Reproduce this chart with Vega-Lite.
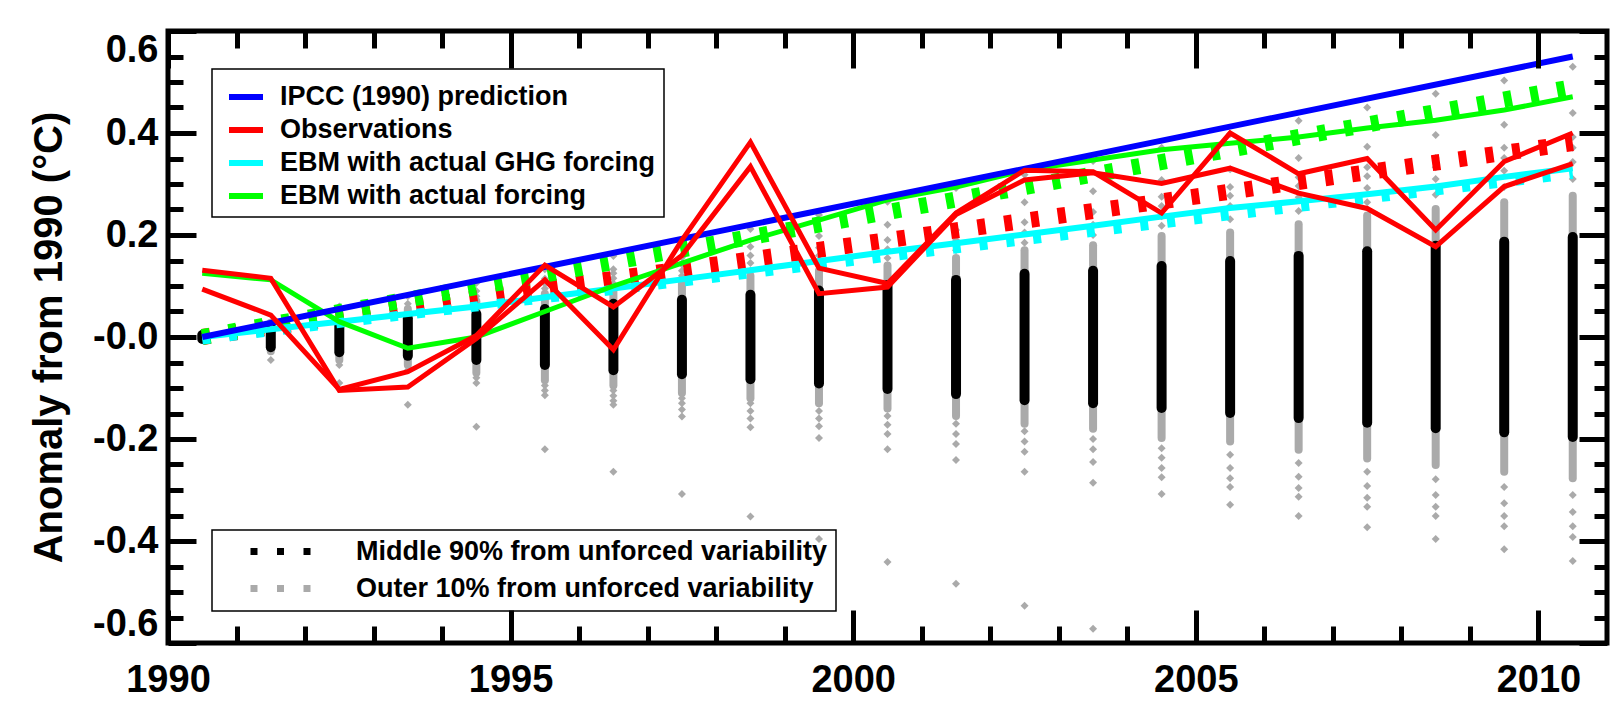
{
  "$schema": "https://vega.github.io/schema/vega-lite/v6.json",
  "width": 1439,
  "height": 612,
  "autosize": {"type": "none"},
  "padding": {"left": 168, "top": 31, "right": 3, "bottom": 66},
  "background": "white",
  "config": {
    "font": "Liberation Sans",
    "view": {"stroke": "black", "strokeWidth": 5},
    "axis": {"domain": false, "grid": false, "tickColor": "black", "tickWidth": 5, "labelColor": "black", "titleColor": "black", "labelFont": "Liberation Sans", "titleFont": "Liberation Sans"},
    "legend": {"strokeWidth": 1.5, "labelFont": "Liberation Sans"}
  },
  "resolve": {"scale": {"x": "shared", "y": "shared"}, "axis": {"x": "independent", "y": "independent"}},
  "datasets": {
    "outer": [
      {"year": 1991.5, "lo": -0.028, "hi": 0.028, "kind": "Outer 10% from unforced variability"},
      {"year": 1992.5, "lo": -0.045, "hi": 0.045, "kind": "Outer 10% from unforced variability"},
      {"year": 1993.5, "lo": -0.055, "hi": 0.055, "kind": "Outer 10% from unforced variability"},
      {"year": 1994.5, "lo": -0.07, "hi": 0.07, "kind": "Outer 10% from unforced variability"},
      {"year": 1995.5, "lo": -0.085, "hi": 0.085, "kind": "Outer 10% from unforced variability"},
      {"year": 1996.5, "lo": -0.095, "hi": 0.095, "kind": "Outer 10% from unforced variability"},
      {"year": 1997.5, "lo": -0.11, "hi": 0.11, "kind": "Outer 10% from unforced variability"},
      {"year": 1998.5, "lo": -0.12, "hi": 0.12, "kind": "Outer 10% from unforced variability"},
      {"year": 1999.5, "lo": -0.13, "hi": 0.13, "kind": "Outer 10% from unforced variability"},
      {"year": 2000.5, "lo": -0.14, "hi": 0.14, "kind": "Outer 10% from unforced variability"},
      {"year": 2001.5, "lo": -0.155, "hi": 0.155, "kind": "Outer 10% from unforced variability"},
      {"year": 2002.5, "lo": -0.17, "hi": 0.17, "kind": "Outer 10% from unforced variability"},
      {"year": 2003.5, "lo": -0.18, "hi": 0.18, "kind": "Outer 10% from unforced variability"},
      {"year": 2004.5, "lo": -0.198, "hi": 0.198, "kind": "Outer 10% from unforced variability"},
      {"year": 2005.5, "lo": -0.205, "hi": 0.205, "kind": "Outer 10% from unforced variability"},
      {"year": 2006.5, "lo": -0.221, "hi": 0.221, "kind": "Outer 10% from unforced variability"},
      {"year": 2007.5, "lo": -0.238, "hi": 0.238, "kind": "Outer 10% from unforced variability"},
      {"year": 2008.5, "lo": -0.251, "hi": 0.251, "kind": "Outer 10% from unforced variability"},
      {"year": 2009.5, "lo": -0.264, "hi": 0.264, "kind": "Outer 10% from unforced variability"},
      {"year": 2010.5, "lo": -0.277, "hi": 0.277, "kind": "Outer 10% from unforced variability"}
    ],
    "middle": [
      {"year": 1990.5, "lo": -0.004, "hi": 0.004, "kind": "Middle 90% from unforced variability"},
      {"year": 1991.5, "lo": -0.02, "hi": 0.02, "kind": "Middle 90% from unforced variability"},
      {"year": 1992.5, "lo": -0.03, "hi": 0.03, "kind": "Middle 90% from unforced variability"},
      {"year": 1993.5, "lo": -0.037, "hi": 0.037, "kind": "Middle 90% from unforced variability"},
      {"year": 1994.5, "lo": -0.045, "hi": 0.045, "kind": "Middle 90% from unforced variability"},
      {"year": 1995.5, "lo": -0.055, "hi": 0.055, "kind": "Middle 90% from unforced variability"},
      {"year": 1996.5, "lo": -0.065, "hi": 0.065, "kind": "Middle 90% from unforced variability"},
      {"year": 1997.5, "lo": -0.073, "hi": 0.073, "kind": "Middle 90% from unforced variability"},
      {"year": 1998.5, "lo": -0.083, "hi": 0.083, "kind": "Middle 90% from unforced variability"},
      {"year": 1999.5, "lo": -0.091, "hi": 0.091, "kind": "Middle 90% from unforced variability"},
      {"year": 2000.5, "lo": -0.102, "hi": 0.102, "kind": "Middle 90% from unforced variability"},
      {"year": 2001.5, "lo": -0.112, "hi": 0.112, "kind": "Middle 90% from unforced variability"},
      {"year": 2002.5, "lo": -0.124, "hi": 0.124, "kind": "Middle 90% from unforced variability"},
      {"year": 2003.5, "lo": -0.13, "hi": 0.13, "kind": "Middle 90% from unforced variability"},
      {"year": 2004.5, "lo": -0.139, "hi": 0.139, "kind": "Middle 90% from unforced variability"},
      {"year": 2005.5, "lo": -0.149, "hi": 0.149, "kind": "Middle 90% from unforced variability"},
      {"year": 2006.5, "lo": -0.159, "hi": 0.159, "kind": "Middle 90% from unforced variability"},
      {"year": 2007.5, "lo": -0.168, "hi": 0.168, "kind": "Middle 90% from unforced variability"},
      {"year": 2008.5, "lo": -0.179, "hi": 0.179, "kind": "Middle 90% from unforced variability"},
      {"year": 2009.5, "lo": -0.187, "hi": 0.187, "kind": "Middle 90% from unforced variability"},
      {"year": 2010.5, "lo": -0.196, "hi": 0.196, "kind": "Middle 90% from unforced variability"}
    ],
    "diamonds": [
      {"year": 1991.5, "v": -0.045}, {"year": 1991.5, "v": 0.027},
      {"year": 1992.5, "v": -0.055}, {"year": 1992.5, "v": 0.055}, {"year": 1992.5, "v": -0.09}, {"year": 1992.5, "v": 0.06},
      {"year": 1993.5, "v": -0.065}, {"year": 1993.5, "v": 0.065}, {"year": 1993.5, "v": -0.133}, {"year": 1993.5, "v": 0.08},
      {"year": 1994.5, "v": -0.08}, {"year": 1994.5, "v": -0.09}, {"year": 1994.5, "v": 0.08}, {"year": 1994.5, "v": 0.09}, {"year": 1994.5, "v": -0.176}, {"year": 1994.5, "v": 0.106},
      {"year": 1995.5, "v": -0.095}, {"year": 1995.5, "v": -0.105}, {"year": 1995.5, "v": -0.114}, {"year": 1995.5, "v": 0.095}, {"year": 1995.5, "v": 0.105}, {"year": 1995.5, "v": 0.114}, {"year": 1995.5, "v": -0.22}, {"year": 1995.5, "v": 0.133},
      {"year": 1996.5, "v": -0.105}, {"year": 1996.5, "v": -0.115}, {"year": 1996.5, "v": -0.125}, {"year": 1996.5, "v": -0.133}, {"year": 1996.5, "v": 0.105}, {"year": 1996.5, "v": 0.115}, {"year": 1996.5, "v": 0.125}, {"year": 1996.5, "v": 0.133}, {"year": 1996.5, "v": -0.264}, {"year": 1996.5, "v": 0.159},
      {"year": 1997.5, "v": -0.12}, {"year": 1997.5, "v": -0.13}, {"year": 1997.5, "v": -0.142}, {"year": 1997.5, "v": -0.156}, {"year": 1997.5, "v": 0.12}, {"year": 1997.5, "v": 0.13}, {"year": 1997.5, "v": 0.142}, {"year": 1997.5, "v": 0.156}, {"year": 1997.5, "v": -0.308}, {"year": 1997.5, "v": 0.186},
      {"year": 1998.5, "v": -0.13}, {"year": 1998.5, "v": -0.145}, {"year": 1998.5, "v": -0.16}, {"year": 1998.5, "v": -0.177}, {"year": 1998.5, "v": 0.13}, {"year": 1998.5, "v": 0.145}, {"year": 1998.5, "v": 0.16}, {"year": 1998.5, "v": 0.177}, {"year": 1998.5, "v": -0.352}, {"year": 1998.5, "v": 0.212},
      {"year": 1999.5, "v": -0.145}, {"year": 1999.5, "v": -0.16}, {"year": 1999.5, "v": -0.175}, {"year": 1999.5, "v": -0.198}, {"year": 1999.5, "v": 0.145}, {"year": 1999.5, "v": 0.16}, {"year": 1999.5, "v": 0.175}, {"year": 1999.5, "v": 0.198}, {"year": 1999.5, "v": -0.396}, {"year": 1999.5, "v": 0.239},
      {"year": 2000.5, "v": -0.155}, {"year": 2000.5, "v": -0.172}, {"year": 2000.5, "v": -0.19}, {"year": 2000.5, "v": -0.22}, {"year": 2000.5, "v": 0.155}, {"year": 2000.5, "v": 0.172}, {"year": 2000.5, "v": 0.19}, {"year": 2000.5, "v": 0.22}, {"year": 2000.5, "v": -0.441}, {"year": 2000.5, "v": 0.265},
      {"year": 2001.5, "v": -0.17}, {"year": 2001.5, "v": -0.19}, {"year": 2001.5, "v": -0.21}, {"year": 2001.5, "v": -0.241}, {"year": 2001.5, "v": 0.17}, {"year": 2001.5, "v": 0.19}, {"year": 2001.5, "v": 0.21}, {"year": 2001.5, "v": 0.241}, {"year": 2001.5, "v": -0.484}, {"year": 2001.5, "v": 0.292},
      {"year": 2002.5, "v": -0.185}, {"year": 2002.5, "v": -0.205}, {"year": 2002.5, "v": -0.225}, {"year": 2002.5, "v": -0.264}, {"year": 2002.5, "v": 0.185}, {"year": 2002.5, "v": 0.205}, {"year": 2002.5, "v": 0.225}, {"year": 2002.5, "v": 0.264}, {"year": 2002.5, "v": -0.527}, {"year": 2002.5, "v": 0.318},
      {"year": 2003.5, "v": -0.2}, {"year": 2003.5, "v": -0.22}, {"year": 2003.5, "v": -0.245}, {"year": 2003.5, "v": -0.286}, {"year": 2003.5, "v": 0.2}, {"year": 2003.5, "v": 0.22}, {"year": 2003.5, "v": 0.245}, {"year": 2003.5, "v": 0.286}, {"year": 2003.5, "v": -0.572}, {"year": 2003.5, "v": 0.345},
      {"year": 2004.5, "v": -0.218}, {"year": 2004.5, "v": -0.237}, {"year": 2004.5, "v": -0.257}, {"year": 2004.5, "v": -0.275}, {"year": 2004.5, "v": -0.308}, {"year": 2004.5, "v": 0.218}, {"year": 2004.5, "v": 0.237}, {"year": 2004.5, "v": 0.257}, {"year": 2004.5, "v": 0.275}, {"year": 2004.5, "v": 0.308}, {"year": 2004.5, "v": 0.371},
      {"year": 2005.5, "v": -0.231}, {"year": 2005.5, "v": -0.257}, {"year": 2005.5, "v": -0.277}, {"year": 2005.5, "v": -0.294}, {"year": 2005.5, "v": -0.329}, {"year": 2005.5, "v": 0.231}, {"year": 2005.5, "v": 0.257}, {"year": 2005.5, "v": 0.277}, {"year": 2005.5, "v": 0.294}, {"year": 2005.5, "v": 0.329}, {"year": 2005.5, "v": 0.398},
      {"year": 2006.5, "v": -0.247}, {"year": 2006.5, "v": -0.274}, {"year": 2006.5, "v": -0.296}, {"year": 2006.5, "v": -0.313}, {"year": 2006.5, "v": -0.351}, {"year": 2006.5, "v": 0.247}, {"year": 2006.5, "v": 0.274}, {"year": 2006.5, "v": 0.296}, {"year": 2006.5, "v": 0.313}, {"year": 2006.5, "v": 0.351}, {"year": 2006.5, "v": 0.424},
      {"year": 2007.5, "v": -0.264}, {"year": 2007.5, "v": -0.292}, {"year": 2007.5, "v": -0.315}, {"year": 2007.5, "v": -0.333}, {"year": 2007.5, "v": -0.373}, {"year": 2007.5, "v": 0.264}, {"year": 2007.5, "v": 0.292}, {"year": 2007.5, "v": 0.315}, {"year": 2007.5, "v": 0.333}, {"year": 2007.5, "v": 0.373}, {"year": 2007.5, "v": 0.45},
      {"year": 2008.5, "v": -0.279}, {"year": 2008.5, "v": -0.31}, {"year": 2008.5, "v": -0.333}, {"year": 2008.5, "v": -0.351}, {"year": 2008.5, "v": -0.396}, {"year": 2008.5, "v": 0.279}, {"year": 2008.5, "v": 0.31}, {"year": 2008.5, "v": 0.333}, {"year": 2008.5, "v": 0.351}, {"year": 2008.5, "v": 0.396}, {"year": 2008.5, "v": 0.477},
      {"year": 2009.5, "v": -0.294}, {"year": 2009.5, "v": -0.326}, {"year": 2009.5, "v": -0.351}, {"year": 2009.5, "v": -0.371}, {"year": 2009.5, "v": -0.416}, {"year": 2009.5, "v": 0.294}, {"year": 2009.5, "v": 0.326}, {"year": 2009.5, "v": 0.351}, {"year": 2009.5, "v": 0.371}, {"year": 2009.5, "v": 0.416}, {"year": 2009.5, "v": 0.503},
      {"year": 2010.5, "v": -0.31}, {"year": 2010.5, "v": -0.343}, {"year": 2010.5, "v": -0.371}, {"year": 2010.5, "v": -0.392}, {"year": 2010.5, "v": -0.439}, {"year": 2010.5, "v": 0.31}, {"year": 2010.5, "v": 0.343}, {"year": 2010.5, "v": 0.371}, {"year": 2010.5, "v": 0.392}, {"year": 2010.5, "v": 0.439}, {"year": 2010.5, "v": 0.53}
    ]
  },
  "layer": [
    {
      "data": {"name": "outer"},
      "mark": {"type": "rule", "strokeWidth": 8, "strokeCap": "round"},
      "encoding": {
        "x": {"field": "year", "type": "quantitative", "scale": {"domain": [1990, 2011], "nice": false, "zero": false},
          "axis": {"orient": "bottom", "values": [1990, 1995, 2000, 2005, 2010], "format": "d", "ticks": false, "labelFontSize": 38, "labelFontWeight": "bold", "labelPadding": 18, "labelFlush": false, "labelOverlap": false, "title": null}},
        "y": {"field": "lo", "type": "quantitative", "scale": {"domain": [-0.6, 0.6], "nice": false, "zero": false},
          "axis": {"orient": "left", "values": [-0.6, -0.4, -0.2, 0, 0.2, 0.4, 0.6], "labelExpr": "abs(datum.value) < 1e-9 ? '-0.0' : (datum.value < 0 ? '-' : '') + format(abs(datum.value), '.1f')", "ticks": false, "labelFontSize": 38, "labelFontWeight": "bold", "labelPadding": 10, "labelFlush": true, "labelOverlap": false, "title": "Anomaly from 1990 (°C)", "titleFontSize": 40, "titleFontWeight": "bold", "titlePadding": 23}},
        "y2": {"field": "hi"},
        "stroke": {"field": "kind", "type": "nominal",
          "scale": {"domain": ["Middle 90% from unforced variability", "Outer 10% from unforced variability"], "range": ["#000000", "#aaaaaa"]},
          "legend": {"orient": "none", "legendX": 44, "legendY": 499, "title": null, "direction": "vertical", "symbolType": "M-4.286,0H-3.286M-0.5,0H0.5M3.286,0H4.286", "symbolStrokeWidth": 7, "symbolSize": 196, "labelFontSize": 27, "labelFontWeight": "bold", "labelColor": "black", "labelLimit": 800, "labelOffset": 62, "strokeColor": "black", "padding": 8, "symbolOffset": 47, "rowPadding": 8}}
      }
    },
    {
      "data": {"name": "middle"},
      "mark": {"type": "rule", "strokeWidth": 10, "strokeCap": "round"},
      "encoding": {
        "x": {"field": "year", "type": "quantitative",
          "axis": {"orient": "bottom", "offset": -33, "values": [1990, 1995, 2000, 2005, 2010], "labels": false, "tickSize": 33, "zindex": 1, "title": null}},
        "y": {"field": "lo", "type": "quantitative",
          "axis": {"orient": "left", "offset": -28, "values": [-0.6, -0.4, -0.2, 0, 0.2, 0.4, 0.6], "labels": false, "tickSize": 28, "zindex": 1, "title": null}},
        "y2": {"field": "hi"},
        "stroke": {"field": "kind", "type": "nominal"}
      }
    },
    {
      "data": {"name": "diamonds"},
      "mark": {"type": "point", "shape": "diamond", "filled": true, "size": 64, "color": "#aaaaaa", "opacity": 1},
      "encoding": {
        "x": {"field": "year", "type": "quantitative",
          "axis": {"orient": "bottom", "offset": -17, "values": [1991, 1992, 1993, 1994, 1996, 1997, 1998, 1999, 2001, 2002, 2003, 2004, 2006, 2007, 2008, 2009], "labels": false, "tickSize": 17, "zindex": 1, "title": null}},
        "y": {"field": "v", "type": "quantitative",
          "axis": {"orient": "left", "offset": -15, "values": [-0.55, -0.5, -0.45, -0.35, -0.3, -0.25, -0.15, -0.1, -0.05, 0.05, 0.1, 0.15, 0.25, 0.3, 0.35, 0.45, 0.5, 0.55], "labels": false, "tickSize": 15, "zindex": 1, "title": null}}
      }
    },
    {
      "data": {"values": [{"year": 1990.5, "v": 0}, {"year": 2010.5, "v": 0.38}]},
      "mark": {"type": "line", "color": "#ff0000", "strokeWidth": 16, "strokeDash": [8, 19], "strokeCap": "butt"},
      "encoding": {
        "x": {"field": "year", "type": "quantitative",
          "axis": {"orient": "top", "offset": -37, "values": [1990, 1995, 2000, 2005, 2010], "labels": false, "tickSize": 37, "zindex": 1, "title": null}},
        "y": {"field": "v", "type": "quantitative",
          "axis": {"orient": "right", "offset": -28, "values": [-0.6, -0.4, -0.2, 0, 0.2, 0.4, 0.6], "labels": false, "tickSize": 28, "zindex": 1, "title": null}}
      }
    },
    {
      "data": {"values": [{"year": 1990.5, "v": 0}, {"year": 2010.5, "v": 0.49}]},
      "mark": {"type": "line", "color": "#00ff00", "strokeWidth": 16, "strokeDash": [8, 19], "strokeCap": "butt"},
      "encoding": {
        "x": {"field": "year", "type": "quantitative",
          "axis": {"orient": "top", "offset": -17, "values": [1991, 1992, 1993, 1994, 1996, 1997, 1998, 1999, 2001, 2002, 2003, 2004, 2006, 2007, 2008, 2009], "labels": false, "tickSize": 17, "zindex": 1, "title": null}},
        "y": {"field": "v", "type": "quantitative",
          "axis": {"orient": "right", "offset": -13, "values": [-0.55, -0.5, -0.45, -0.35, -0.3, -0.25, -0.15, -0.1, -0.05, 0.05, 0.1, 0.15, 0.25, 0.3, 0.35, 0.45, 0.5, 0.55], "labels": false, "tickSize": 13, "zindex": 1, "title": null}}
      }
    },
    {
      "data": {"values": [{"year": 1990.5, "v": -0.005}, {"year": 2010.5, "v": 0.32}]},
      "mark": {"type": "line", "color": "#00ffff", "strokeWidth": 10, "strokeDash": [8, 19], "strokeCap": "butt"},
      "encoding": {
        "x": {"field": "year", "type": "quantitative", "axis": null},
        "y": {"field": "v", "type": "quantitative", "axis": null}
      }
    },
    {
      "data": {"values": [
        {"year": 1990.5, "v": 0, "series": "EBM with actual GHG forcing"},
        {"year": 1991.5, "v": 0.015, "series": "EBM with actual GHG forcing"},
        {"year": 1992.5, "v": 0.03, "series": "EBM with actual GHG forcing"},
        {"year": 1993.5, "v": 0.045, "series": "EBM with actual GHG forcing"},
        {"year": 1994.5, "v": 0.06, "series": "EBM with actual GHG forcing"},
        {"year": 1995.5, "v": 0.078, "series": "EBM with actual GHG forcing"},
        {"year": 1996.5, "v": 0.095, "series": "EBM with actual GHG forcing"},
        {"year": 1997.5, "v": 0.113, "series": "EBM with actual GHG forcing"},
        {"year": 1998.5, "v": 0.131, "series": "EBM with actual GHG forcing"},
        {"year": 1999.5, "v": 0.149, "series": "EBM with actual GHG forcing"},
        {"year": 2000.5, "v": 0.167, "series": "EBM with actual GHG forcing"},
        {"year": 2001.5, "v": 0.184, "series": "EBM with actual GHG forcing"},
        {"year": 2002.5, "v": 0.201, "series": "EBM with actual GHG forcing"},
        {"year": 2003.5, "v": 0.218, "series": "EBM with actual GHG forcing"},
        {"year": 2004.5, "v": 0.236, "series": "EBM with actual GHG forcing"},
        {"year": 2005.5, "v": 0.253, "series": "EBM with actual GHG forcing"},
        {"year": 2006.5, "v": 0.266, "series": "EBM with actual GHG forcing"},
        {"year": 2007.5, "v": 0.28, "series": "EBM with actual GHG forcing"},
        {"year": 2008.5, "v": 0.295, "series": "EBM with actual GHG forcing"},
        {"year": 2009.5, "v": 0.314, "series": "EBM with actual GHG forcing"},
        {"year": 2010.5, "v": 0.331, "series": "EBM with actual GHG forcing"}
      ]},
      "mark": {"type": "line", "strokeWidth": 6},
      "encoding": {
        "x": {"field": "year", "type": "quantitative", "axis": null},
        "y": {"field": "v", "type": "quantitative", "axis": null},
        "color": {"field": "series", "type": "nominal",
          "scale": {"domain": ["IPCC (1990) prediction", "Observations", "EBM with actual GHG forcing", "EBM with actual forcing"], "range": ["#0000ff", "#ff0000", "#00ffff", "#00ff00"]},
          "legend": {"orient": "none", "legendX": 44, "legendY": 38, "title": null, "direction": "vertical", "symbolType": "stroke", "symbolStrokeWidth": 6, "symbolSize": 1156, "labelFontSize": 27, "labelFontWeight": "bold", "labelColor": "black", "labelLimit": 800, "labelOffset": 14, "strokeColor": "black", "padding": 8, "symbolOffset": 6, "rowPadding": 0}}
      }
    },
    {
      "data": {"values": [
        {"year": 1990.5, "v": 0.125, "series": "EBM with actual forcing"},
        {"year": 1991.5, "v": 0.112, "series": "EBM with actual forcing"},
        {"year": 1992.5, "v": 0.03, "series": "EBM with actual forcing"},
        {"year": 1993.5, "v": -0.022, "series": "EBM with actual forcing"},
        {"year": 1994.5, "v": 0.0, "series": "EBM with actual forcing"},
        {"year": 1995.5, "v": 0.05, "series": "EBM with actual forcing"},
        {"year": 1996.5, "v": 0.1, "series": "EBM with actual forcing"},
        {"year": 1997.5, "v": 0.145, "series": "EBM with actual forcing"},
        {"year": 1998.5, "v": 0.19, "series": "EBM with actual forcing"},
        {"year": 1999.5, "v": 0.229, "series": "EBM with actual forcing"},
        {"year": 2000.5, "v": 0.269, "series": "EBM with actual forcing"},
        {"year": 2001.5, "v": 0.294, "series": "EBM with actual forcing"},
        {"year": 2002.5, "v": 0.327, "series": "EBM with actual forcing"},
        {"year": 2003.5, "v": 0.347, "series": "EBM with actual forcing"},
        {"year": 2004.5, "v": 0.367, "series": "EBM with actual forcing"},
        {"year": 2005.5, "v": 0.38, "series": "EBM with actual forcing"},
        {"year": 2006.5, "v": 0.392, "series": "EBM with actual forcing"},
        {"year": 2007.5, "v": 0.41, "series": "EBM with actual forcing"},
        {"year": 2008.5, "v": 0.425, "series": "EBM with actual forcing"},
        {"year": 2009.5, "v": 0.445, "series": "EBM with actual forcing"},
        {"year": 2010.5, "v": 0.471, "series": "EBM with actual forcing"}
      ]},
      "mark": {"type": "line", "strokeWidth": 5},
      "encoding": {
        "x": {"field": "year", "type": "quantitative", "axis": null},
        "y": {"field": "v", "type": "quantitative", "axis": null},
        "color": {"field": "series", "type": "nominal"}
      }
    },
    {
      "data": {"values": [
        {"year": 1990.5, "v": 0, "series": "IPCC (1990) prediction"},
        {"year": 2010.5, "v": 0.55, "series": "IPCC (1990) prediction"}
      ]},
      "mark": {"type": "line", "strokeWidth": 6},
      "encoding": {
        "x": {"field": "year", "type": "quantitative", "axis": null},
        "y": {"field": "v", "type": "quantitative", "axis": null},
        "color": {"field": "series", "type": "nominal"}
      }
    },
    {
      "data": {"values": [
        {"year": 1990.5, "v": 0.131, "ds": "A", "series": "Observations"},
        {"year": 1991.5, "v": 0.115, "ds": "A", "series": "Observations"},
        {"year": 1992.5, "v": -0.105, "ds": "A", "series": "Observations"},
        {"year": 1993.5, "v": -0.098, "ds": "A", "series": "Observations"},
        {"year": 1994.5, "v": -0.003, "ds": "A", "series": "Observations"},
        {"year": 1995.5, "v": 0.112, "ds": "A", "series": "Observations"},
        {"year": 1996.5, "v": -0.025, "ds": "A", "series": "Observations"},
        {"year": 1997.5, "v": 0.19, "ds": "A", "series": "Observations"},
        {"year": 1998.5, "v": 0.382, "ds": "A", "series": "Observations"},
        {"year": 1999.5, "v": 0.135, "ds": "A", "series": "Observations"},
        {"year": 2000.5, "v": 0.105, "ds": "A", "series": "Observations"},
        {"year": 2001.5, "v": 0.243, "ds": "A", "series": "Observations"},
        {"year": 2002.5, "v": 0.327, "ds": "A", "series": "Observations"},
        {"year": 2003.5, "v": 0.324, "ds": "A", "series": "Observations"},
        {"year": 2004.5, "v": 0.243, "ds": "A", "series": "Observations"},
        {"year": 2005.5, "v": 0.4, "ds": "A", "series": "Observations"},
        {"year": 2006.5, "v": 0.32, "ds": "A", "series": "Observations"},
        {"year": 2007.5, "v": 0.35, "ds": "A", "series": "Observations"},
        {"year": 2008.5, "v": 0.21, "ds": "A", "series": "Observations"},
        {"year": 2009.5, "v": 0.344, "ds": "A", "series": "Observations"},
        {"year": 2010.5, "v": 0.4, "ds": "A", "series": "Observations"},
        {"year": 1990.5, "v": 0.094, "ds": "B", "series": "Observations"},
        {"year": 1991.5, "v": 0.043, "ds": "B", "series": "Observations"},
        {"year": 1992.5, "v": -0.103, "ds": "B", "series": "Observations"},
        {"year": 1993.5, "v": -0.068, "ds": "B", "series": "Observations"},
        {"year": 1994.5, "v": 0.003, "ds": "B", "series": "Observations"},
        {"year": 1995.5, "v": 0.141, "ds": "B", "series": "Observations"},
        {"year": 1996.5, "v": 0.059, "ds": "B", "series": "Observations"},
        {"year": 1997.5, "v": 0.16, "ds": "B", "series": "Observations"},
        {"year": 1998.5, "v": 0.334, "ds": "B", "series": "Observations"},
        {"year": 1999.5, "v": 0.085, "ds": "B", "series": "Observations"},
        {"year": 2000.5, "v": 0.098, "ds": "B", "series": "Observations"},
        {"year": 2001.5, "v": 0.24, "ds": "B", "series": "Observations"},
        {"year": 2002.5, "v": 0.308, "ds": "B", "series": "Observations"},
        {"year": 2003.5, "v": 0.322, "ds": "B", "series": "Observations"},
        {"year": 2004.5, "v": 0.301, "ds": "B", "series": "Observations"},
        {"year": 2005.5, "v": 0.331, "ds": "B", "series": "Observations"},
        {"year": 2006.5, "v": 0.282, "ds": "B", "series": "Observations"},
        {"year": 2007.5, "v": 0.252, "ds": "B", "series": "Observations"},
        {"year": 2008.5, "v": 0.177, "ds": "B", "series": "Observations"},
        {"year": 2009.5, "v": 0.295, "ds": "B", "series": "Observations"},
        {"year": 2010.5, "v": 0.34, "ds": "B", "series": "Observations"}
      ]},
      "mark": {"type": "line", "strokeWidth": 5},
      "encoding": {
        "x": {"field": "year", "type": "quantitative", "axis": null},
        "y": {"field": "v", "type": "quantitative", "axis": null},
        "color": {"field": "series", "type": "nominal"},
        "detail": {"field": "ds", "type": "nominal"}
      }
    }
  ]
}
